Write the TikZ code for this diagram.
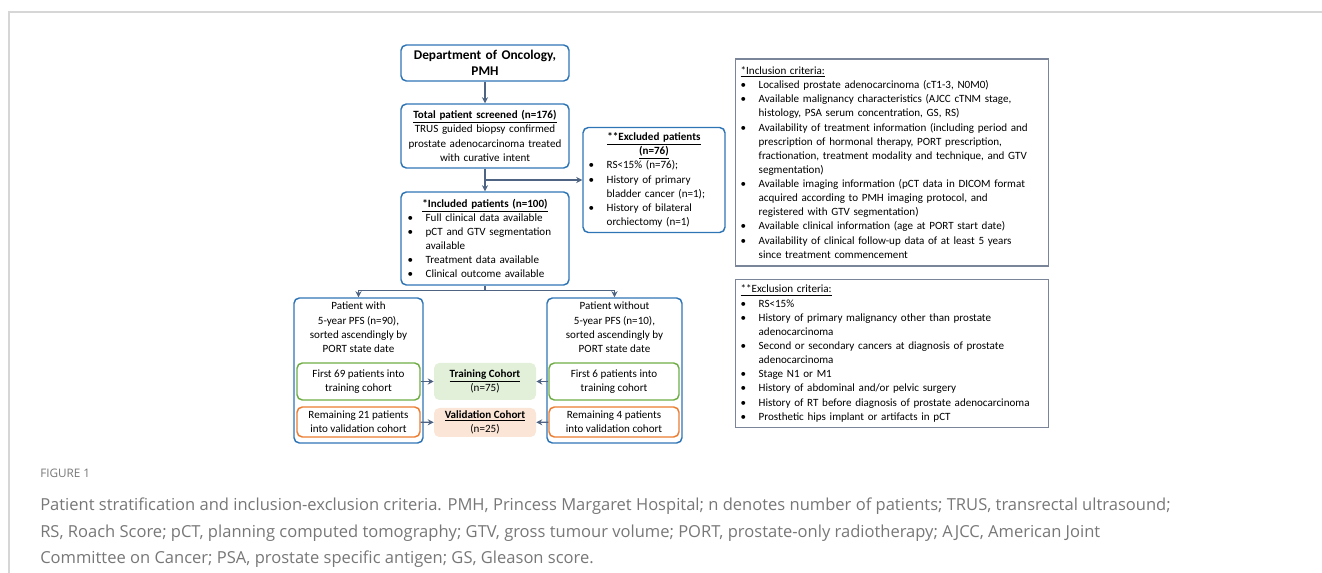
\documentclass[tikz,border=0pt]{standalone}
\usepackage{fontspec}
\setmainfont{Carlito}
\newfontfamily\capfont{Open Sans}
\usepackage{tikz}
\usetikzlibrary{positioning,arrows.meta}
\usepackage{xcolor}

\definecolor{boxblue}{HTML}{2E75B6}
\definecolor{boxgreen}{HTML}{70AD47}
\definecolor{boxorange}{HTML}{ED7D31}
\definecolor{fillgreen}{HTML}{E2F0D9}
\definecolor{fillorange}{HTML}{FBE5D6}
\definecolor{linkgray}{HTML}{4F6482}
\definecolor{critgray}{HTML}{7A8599}
\definecolor{captgray}{HTML}{777777}
\definecolor{framegray}{HTML}{D6D6D6}

% bullet line with hanging text
\newcommand{\bitem}[1]{\par\noindent\makebox[13.5pt][l]{\textbullet}\parbox[t]{\dimexpr\hsize-13.5pt\relax}{\raggedright #1\par\xdef\bdepth{\the\prevdepth}}\par\prevdepth=\bdepth\relax}

\begin{document}
\begin{tikzpicture}[
    x=0.75pt, y=-0.75pt,
    node distance=3pt,
    every node/.style={font=\fontsize{8.3}{10.6}\selectfont},
    bluebox/.style={rectangle, draw=boxblue, line width=1.1pt, rounded corners=4pt, align=center, inner sep=2pt},
    greenbox/.style={rectangle, draw=boxgreen, line width=1.1pt, rounded corners=4pt, align=center, inner sep=1pt, minimum width=92.25pt, minimum height=27.75pt},
    orangebox/.style={rectangle, draw=boxorange, line width=1.1pt, rounded corners=4pt, align=center, inner sep=1pt, minimum width=92.25pt, minimum height=22.5pt},
    cohort/.style={rectangle, rounded corners=4pt, align=center, inner sep=1pt, minimum width=76.5pt},
    critbox/.style={rectangle, draw=critgray, line width=0.8pt, align=left, inner sep=4pt, text width=227pt},
    arrow/.style={-{Stealth[length=4.5pt,width=4.5pt]}, line width=1pt, draw=linkgray}
]

\useasboundingbox (0,0) rectangle (1322,573);
\draw[framegray, line width=1.1pt] (9,573) -- (9,12) -- (1322,12);

% left flow
\node[bluebox, minimum width=126pt, minimum height=27pt, text width=120pt, font=\fontsize{10}{12}\selectfont\bfseries] (dept) at (485,63) {Department of Oncology,\\PMH};
\node[bluebox, minimum width=126pt, minimum height=48pt, text width=122pt] (total) at (485,136) {\textbf{\underline{Total patient screened (n=176)}}\\TRUS guided biopsy confirmed\\prostate adenocarcinoma treated\\with curative intent};
\node[bluebox, minimum width=126pt, minimum height=69.75pt, text width=116pt, align=left] (incl) at (485,238.5) {{\centering\textbf{\underline{*Included patients (n=100)}}\par}
\bitem{Full clinical data available}
\bitem{pCT and GTV segmentation\\available}
\bitem{Treatment data available}
\bitem{Clinical outcome available}};
\node[bluebox, minimum width=106.5pt, minimum height=78.75pt, text width=98pt, align=left] (excl) at (654,180) {{\centering\textbf{\underline{**Excluded patients}}\\\textbf{\underline{(n=76)}}\par}
\bitem{RS<15\% (n=76);}
\bitem{History of primary\\bladder cancer (n=1);}
\bitem{History of bilateral\\orchiectomy (n=1)}};

\draw[arrow] (dept) -- (total);
\draw[arrow] (total) -- (incl);
\draw[arrow] (total.south |- excl.west) -- (excl.west);

% groups
\node[bluebox, minimum width=96.75pt, minimum height=108.75pt] (grpL) at (358.5,370.5) {};
\node[bluebox, minimum width=101.25pt, minimum height=108.75pt] (grpR) at (614.5,370.5) {};
\node[below=3.5pt of grpL.north, align=center, inner sep=0pt] (withL) {Patient with\\5-year PFS (n=90),\\sorted ascendingly by\\PORT state date};
\node[below=3.5pt of grpR.north, align=center, inner sep=0pt] (withoutR) {Patient without\\5-year PFS (n=10),\\sorted ascendingly by\\PORT state date};

\draw[arrow] (incl.south) -- ++(0,5) coordinate (split) -| (grpL.north);
\draw[arrow] (split) -| (grpR.north);

\node[greenbox] (trainL) at (358.5,381.5) {First 69 patients into\\training cohort};
\node[orangebox] (validL) at (358.5,422) {Remaining 21 patients\\into validation cohort};
\node[greenbox, minimum width=97.5pt] (trainR) at (614,381.5) {First 6 patients into\\training cohort};
\node[orangebox, minimum width=97.5pt] (validR) at (614,422) {Remaining 4 patients\\into validation cohort};

\node[cohort, fill=fillgreen, minimum height=27.75pt] (train) at (485,381.5) {\textbf{\underline{Training Cohort}}\\(n=75)};
\node[cohort, fill=fillorange, minimum height=21.75pt] (valid) at (485,422.5) {\textbf{\underline{Validation Cohort}}\\(n=25)};

\draw[arrow] (trainL) -- (train);
\draw[arrow] (trainR) -- (train);
\draw[arrow] (validL) -- (valid);
\draw[arrow] (validR) -- (valid);

% criteria
\node[critbox, minimum height=155.25pt] (inccrit) at (892,162.5) {\underline{*Inclusion criteria:}
\bitem{Localised prostate adenocarcinoma (cT1-3, N0M0)}
\bitem{Available malignancy characteristics (AJCC cTNM stage,\\histology, PSA serum concentration, GS, RS)}
\bitem{Availability of treatment information (including period and\\prescription of hormonal therapy, PORT prescription,\\fractionation, treatment modality and technique, and GTV\\segmentation)}
\bitem{Available imaging information (pCT data in DICOM format\\acquired according to PMH imaging protocol, and\\registered with GTV segmentation)}
\bitem{Available clinical information (age at PORT start date)}
\bitem{Availability of clinical follow-up data of at least 5 years\\since treatment commencement}};
\node[critbox, minimum height=102.75pt] (exccrit) at (892,353.5) {\underline{**Exclusion criteria:}
\bitem{RS<15\%}
\bitem{History of primary malignancy other than prostate\\adenocarcinoma}
\bitem{Second or secondary cancers at diagnosis of prostate\\adenocarcinoma}
\bitem{Stage N1 or M1}
\bitem{History of abdominal and/or pelvic surgery}
\bitem{History of RT before diagnosis of prostate adenocarcinoma}
\bitem{Prosthetic hips implant or artifacts in pCT}};

% caption
\node[anchor=base west, inner sep=0pt, text=captgray, font=\capfont\fontsize{8.8}{10}\selectfont] (fig) at (40,478) {FIGURE 1};
\node[anchor=north west, inner sep=0pt, align=left, text=captgray, font=\capfont\fontsize{12.4}{19.9}\selectfont] (capt) at (40,498) {Patient stratification and inclusion-exclusion criteria. PMH, Princess Margaret Hospital; n denotes number of patients; TRUS, transrectal ultrasound;\\RS, Roach Score; pCT, planning computed tomography; GTV, gross tumour volume; PORT, prostate-only radiotherapy; AJCC, American Joint\\Committee on Cancer; PSA, prostate specific antigen; GS, Gleason score.};

\end{tikzpicture}
\end{document}
